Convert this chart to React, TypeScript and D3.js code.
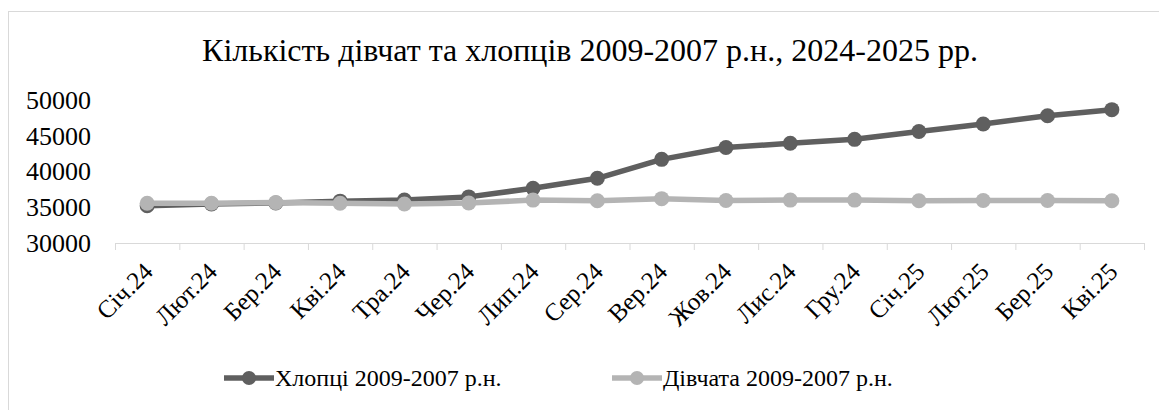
import React from "react";
import * as d3 from "d3";

const categories = ["Січ.24","Лют.24","Бер.24","Кві.24","Тра.24","Чер.24","Лип.24","Сер.24","Вер.24","Жов.24","Лис.24","Гру.24","Січ.25","Лют.25","Бер.25","Кві.25"];
const boys = [35200, 35450, 35600, 35850, 36000, 36450, 37650, 39050, 41700, 43350, 43950, 44500, 45600, 46650, 47800, 48650];
const girls = [35550, 35550, 35650, 35550, 35450, 35600, 36000, 35900, 36200, 35950, 36000, 36000, 35900, 35950, 35950, 35900];
const yTicks = [30000, 35000, 40000, 45000, 50000];
const title = "Кількість дівчат та хлопців 2009-2007 р.н., 2024-2025 рр.";
const seriesNames = ["Хлопці 2009-2007 р.н.", "Дівчата 2009-2007 р.н."];
const colors = ["#5f5f5f", "#b4b4b4"];

export default function App() {
  const W = 1159, H = 410;
  const left = 115, right = 1144, top = 100, bottom = 243;
  const x = d3.scaleBand<string>().domain(categories).range([left, right]);
  const y = d3.scaleLinear().domain([30000, 50000]).range([bottom, top]);
  const line = d3.line<number>().x((_, i) => x(categories[i])! + x.bandwidth() / 2).y(d => y(d));
  const font = "Liberation Serif";
  const series = [boys, girls];
  const tickXs = [...categories.map(c => x(c)!), right];
  return (
    <svg width={W} height={H} style={{ position: "absolute", left: 0, top: 0 }}>
      <rect x={0} y={0} width={W} height={H} fill="#fff" />
      <rect x={8.5} y={11.5} width={W + 20} height={H + 20} fill="none" stroke="#d9d9d9" />
      <text x={590} y={61} textAnchor="middle" fontFamily={font} fontSize={32} fill="#000">{title}</text>
      {yTicks.map(t => (
        <text key={t} x={91} y={y(t)} dy="0.34em" textAnchor="end" fontFamily={font} fontSize={26} fill="#000">{t}</text>
      ))}
      <line x1={left} x2={right} y1={bottom + 0.5} y2={bottom + 0.5} stroke="#d9d9d9" strokeWidth={1} />
      {tickXs.map((tx, i) => (
        <line key={i} x1={tx + 0.5} x2={tx + 0.5} y1={bottom} y2={bottom + 7} stroke="#d9d9d9" />
      ))}
      {categories.map(c => {
        const cx = x(c)! + x.bandwidth() / 2;
        return (
          <text key={c} transform={`translate(${cx + 1},${bottom + 24}) rotate(-45)`} textAnchor="end" dy="0.35em" fontFamily={font} fontSize={25} fill="#000">{c}</text>
        );
      })}
      {series.map((s, si) => (
        <g key={si}>
          <path d={line(s)!} fill="none" stroke={colors[si]} strokeWidth={5.5} strokeLinejoin="round" />
          {s.map((v, i) => (
            <circle key={i} cx={x(categories[i])! + x.bandwidth() / 2} cy={y(v)} r={7.5} fill={colors[si]} />
          ))}
        </g>
      ))}
      {[0, 1].map(i => {
        const lx = i === 0 ? 224 : 612;
        return (
          <g key={i}>
            <line x1={lx} x2={lx + 50} y1={378} y2={378} stroke={colors[i]} strokeWidth={5.5} />
            <circle cx={lx + 25} cy={378} r={7} fill={colors[i]} />
            <text x={lx + 51} y={386} fontFamily={font} fontSize={24} fill="#000">{seriesNames[i]}</text>
          </g>
        );
      })}
    </svg>
  );
}
